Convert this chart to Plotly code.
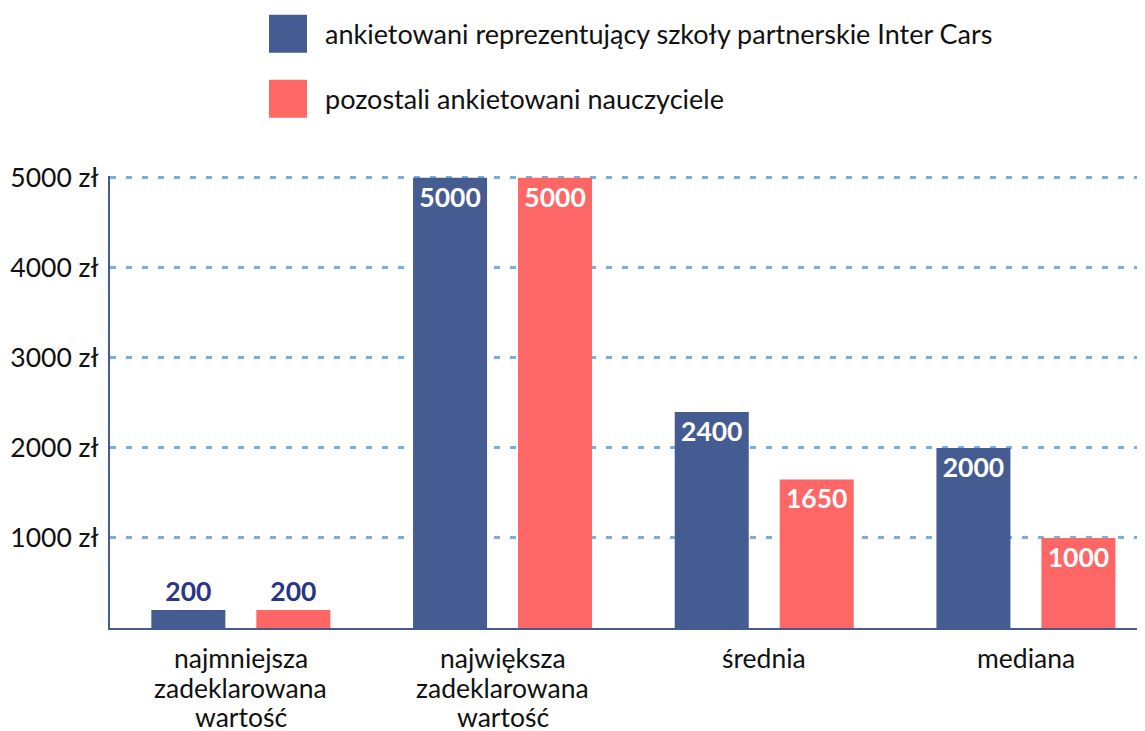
import plotly.graph_objects as go

categories = ["najmniejsza zadeklarowana wartość",
              "największa zadeklarowana wartość",
              "średnia", "mediana"]
category_lines = [["najmniejsza", "zadeklarowana", "wartość"],
                  ["największa", "zadeklarowana", "wartość"],
                  ["średnia"], ["mediana"]]
series_names = ["ankietowani reprezentujący szkoły partnerskie Inter Cars",
                "pozostali ankietowani nauczyciele"]
inter_cars = [200, 5000, 2400, 2000]
others = [200, 5000, 1650, 1000]
tick_values = [1000, 2000, 3000, 4000, 5000]
tick_labels = ["1000 zł", "2000 zł", "3000 zł", "4000 zł", "5000 zł"]

BLUE = "#445c92"
RED = "#ff6666"
NAVY = "#2b3585"
TXT = "#111111"
FONT = "Lato"
FS = 26.5

# page body offset (default 8px margin of the html page)
OFF = 8
PLOT_LEFT, PLOT_RIGHT, PLOT_BOTTOM = 110, 1145, 628   # screen px
Y_TOP = 5020
PX_PER_UNIT = 450 / 5000
PLOT_H = Y_TOP * PX_PER_UNIT
X_RANGE = [-0.5, 3.455]   # last category runs past the right edge

def positions(vals):
    return ["outside" if v < 500 else "inside" for v in vals]

fig = go.Figure()
for name, vals, col in [(series_names[0], inter_cars, BLUE), (series_names[1], others, RED)]:
    fig.add_trace(go.Bar(
        x=categories, y=vals, name=name, marker=dict(color=col, line=dict(width=0)),
        text=[str(v) for v in vals], textposition=positions(vals),
        insidetextanchor="end", constraintext="none", cliponaxis=False,
        insidetextfont=dict(family=FONT, size=FS, color="white", weight="bold"),
        outsidetextfont=dict(family=FONT, size=FS, color=NAVY, weight="bold"),
        showlegend=False,
    ))

W = PLOT_RIGHT - OFF
H = 731 - OFF
top_margin = round(PLOT_BOTTOM - OFF - PLOT_H)
fig.update_layout(
    width=W, height=H,
    margin=dict(l=PLOT_LEFT - OFF, r=0, t=top_margin, b=H - (PLOT_BOTTOM - OFF), autoexpand=False),
    paper_bgcolor="white", plot_bgcolor="white",
    barmode="group", bargap=0.1976, bargroupgap=0.295,
    font=dict(family=FONT, size=FS, color=TXT),
    xaxis=dict(range=X_RANGE, showline=True, linecolor=BLUE, linewidth=2, ticks="",
               showticklabels=False, showgrid=False, zeroline=False),
    yaxis=dict(range=[0, Y_TOP], tickvals=tick_values, ticktext=tick_labels,
               showline=True, linecolor=BLUE, linewidth=2, ticks="",
               ticklabelstandoff=4, tickfont=dict(size=FS, color=TXT),
               showgrid=True, gridcolor="#7ab0e0", gridwidth=2.5, griddash="6px,10px",
               zeroline=False),
)

# category labels, one annotation per line (tighter line spacing than tick labels)
line_offsets = [30, 60, 89]
for cat, lines in zip(categories, category_lines):
    for i, ln in enumerate(lines):
        fig.add_annotation(x=cat, xref="x", y=0, yref="paper", yshift=-line_offsets[i],
                           text=ln, showarrow=False, xanchor="center", yanchor="middle",
                           font=dict(family=FONT, size=FS, color=TXT))

# custom legend
def px_to_paper_x(px):
    return (px - PLOT_LEFT) / (PLOT_RIGHT - PLOT_LEFT)

def px_to_paper_y(py):
    return (PLOT_BOTTOM - py) / PLOT_H

legend_rows = [(series_names[0], BLUE, 15), (series_names[1], RED, 80)]
for name, col, top in legend_rows:
    fig.add_shape(type="rect", xref="paper", yref="paper",
                  x0=px_to_paper_x(269), x1=px_to_paper_x(307),
                  y0=px_to_paper_y(top + 38), y1=px_to_paper_y(top),
                  fillcolor=col, line=dict(width=0))
    fig.add_annotation(xref="paper", yref="paper", x=px_to_paper_x(323),
                       y=px_to_paper_y(top + 19), text=name, showarrow=False,
                       xanchor="left", yanchor="middle",
                       font=dict(family=FONT, size=27, color=TXT))

fig.write_html("out.html")
